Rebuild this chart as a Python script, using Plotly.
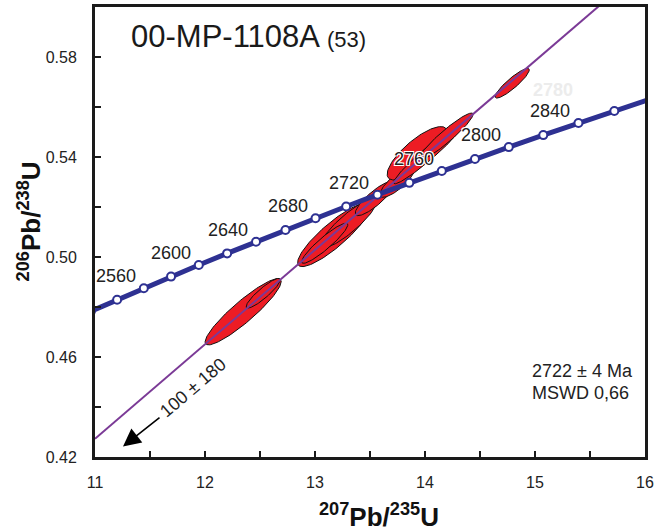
import numpy as np
import plotly.graph_objects as go

# ---------------- data ----------------
# Concordia points (t in Ma, 207Pb/235U, 206Pb/238U)
conc_age = [2520, 2540, 2560, 2580, 2600, 2620, 2640, 2660, 2680, 2700,
            2720, 2740, 2760, 2780, 2800, 2820, 2840, 2860, 2880]
conc_x = [10.9630, 11.2010, 11.4437, 11.6913, 11.9437, 12.2012, 12.4638, 12.7316,
          13.0048, 13.2834, 13.5675, 13.8573, 14.1528, 14.4543, 14.7617, 15.0752,
          15.3950, 15.7211, 16.0537]
conc_y = [0.47833, 0.48293, 0.48753, 0.49216, 0.49679, 0.50145, 0.50611, 0.51079,
          0.51548, 0.52019, 0.52492, 0.52966, 0.53441, 0.53918, 0.54396, 0.54876,
          0.55357, 0.55840, 0.56324]
label_ages = [2560, 2600, 2640, 2680, 2720, 2760, 2800, 2840]

# Discordia chord (drawn across the frame)
disc_x = [11.0, 16.0]
disc_y = [0.4273, 0.6162]

# Error ellipses: centre, x-error, y-error, error correlation
ell_x = [12.347, 12.529, 13.170, 13.306, 13.088, 13.543, 13.747, 13.929, 14.020, 14.193, 14.793]
ell_y = [0.4781, 0.4855, 0.5088, 0.5135, 0.5055, 0.5234, 0.5300, 0.5415, 0.5409, 0.5483, 0.5695]
ell_sx = [0.346, 0.155, 0.328, 0.254, 0.210, 0.177, 0.157, 0.273, 0.306, 0.244, 0.155]
ell_sy = [0.01326, 0.00593, 0.01265, 0.00977, 0.00803, 0.00685, 0.00612, 0.01066, 0.01161, 0.00930, 0.00593]
ell_rho = [0.912, 0.900, 0.873, 0.880, 0.921, 0.852, 0.813, 0.787, 0.962, 0.942, 0.900]

x_ticks = [11, 12, 13, 14, 15, 16]
x_minor = [11.5, 12.5, 13.5, 14.5, 15.5]
y_ticks = [0.42, 0.46, 0.50, 0.54, 0.58]
y_minor = [0.44, 0.48, 0.52, 0.56]

sample_name = "00-MP-1108A"
n_analyses = 53
age_text = "2722 ± 4 Ma"
mswd_text = "MSWD 0,66"
lower_text = "100 ± 180"

FONT = "Arial, 'Liberation Sans', Helvetica, sans-serif"
BLUE = "#2E3192"
RED = "#ED1C24"
PURPLE = "#7B3A96"

fig = go.Figure()

# ellipses
t = np.linspace(0, 2 * np.pi, 120)
for cx, cy, sx, sy, r in zip(ell_x, ell_y, ell_sx, ell_sy, ell_rho):
    ex = cx + sx * np.cos(t)
    ey = cy + sy * (r * np.cos(t) + np.sqrt(1 - r * r) * np.sin(t))
    fig.add_trace(go.Scatter(x=ex, y=ey, mode="lines", fill="toself",
                             fillcolor=RED, line=dict(color="#111111", width=1),
                             hoverinfo="skip"))

# discordia
fig.add_trace(go.Scatter(x=disc_x, y=disc_y, mode="lines",
                         line=dict(color=PURPLE, width=2), hoverinfo="skip"))

# concordia
fig.add_trace(go.Scatter(x=conc_x, y=conc_y, mode="lines+markers",
                         line=dict(color=BLUE, width=5),
                         marker=dict(size=8, color="white", line=dict(color=BLUE, width=2)),
                         hoverinfo="skip"))

annotations = []
halo = "1px 1px 0 #fff, -1px -1px 0 #fff, 1px -1px 0 #fff, -1px 1px 0 #fff"
for a in label_ages:
    i = conc_age.index(a)
    annotations.append(dict(x=conc_x[i], y=conc_y[i], xref="x", yref="y",
                            text=str(a), showarrow=False, xanchor="right", yanchor="bottom",
                            xshift=-6, yshift=0,
                            font=dict(family=FONT, size=18, color="#222222", shadow=halo)))

# faint ghost label
annotations.append(dict(x=0.832, y=0.816, xref="paper", yref="paper", text="<b>2780</b>",
                        showarrow=False, xanchor="center", yanchor="middle",
                        font=dict(family=FONT, size=18, color="#ececec")))

# title
annotations.append(dict(x=0.061, y=0.934, xref="paper", yref="paper",
                        text=f"{sample_name} <span style='font-size:22px'>({n_analyses})</span>",
                        showarrow=False, xanchor="left", yanchor="middle",
                        font=dict(family=FONT, size=31, color="#1a1a1a")))

# age / MSWD
annotations.append(dict(x=0.790, y=0.1907, xref="paper", yref="paper", text=age_text,
                        showarrow=False, xanchor="left", yanchor="middle",
                        font=dict(family=FONT, size=18, color="#222222")))
annotations.append(dict(x=0.790, y=0.1413, xref="paper", yref="paper", text=mswd_text,
                        showarrow=False, xanchor="left", yanchor="middle",
                        font=dict(family=FONT, size=18, color="#222222")))

# lower intercept text
annotations.append(dict(x=11.888, y=0.4477, xref="x", yref="y", text=lower_text,
                        showarrow=False, textangle=-40.6, xanchor="center", yanchor="middle",
                        font=dict(family=FONT, size=18, color="#222222")))
# arrow
annotations.append(dict(x=11.2545, y=0.42424, xref="x", yref="y", text="",
                        showarrow=True, ax=38, ay=-30, axref="pixel", ayref="pixel",
                        arrowhead=2, arrowsize=2.2, arrowwidth=1.6, arrowcolor="black"))

# axis titles
annotations.append(dict(x=(379 - 95.3) / 550, y=(457.3 - 516) / 450, xref="paper", yref="paper",
                        text="<b><sup>207</sup>Pb/<sup>235</sup>U</b>", showarrow=False,
                        xanchor="center", yanchor="middle",
                        font=dict(family=FONT, size=26, color="#111111")))
annotations.append(dict(x=(30 - 95.3) / 550, y=(457.3 - 222) / 450, xref="paper", yref="paper",
                        text="<b><sup>206</sup>Pb/<sup>238</sup>U</b>", showarrow=False,
                        textangle=-90, xanchor="center", yanchor="middle",
                        font=dict(family=FONT, size=26, color="#111111")))

axis_common = dict(showgrid=False, zeroline=False, showline=True, linecolor="#1a1a1a",
                   linewidth=3, mirror=True, ticks="inside", ticklen=6, tickwidth=2,
                   tickcolor="#1a1a1a", automargin=False,
                   tickfont=dict(family=FONT, size=16, color="#222222"))

fig.update_xaxes(range=[11, 16], tickvals=x_ticks, ticktext=[str(v) for v in x_ticks],
                 ticklabelstandoff=9,
                 minor=dict(tickvals=x_minor, ticks="inside", ticklen=6, tickwidth=2,
                            tickcolor="#1a1a1a", showgrid=False),
                 **axis_common)
fig.update_yaxes(range=[0.42, 0.60], tickvals=y_ticks, ticktext=[f"{v:.2f}" for v in y_ticks],
                 ticklabelstandoff=12,
                 minor=dict(tickvals=y_minor, ticks="inside", ticklen=6, tickwidth=2,
                            tickcolor="#1a1a1a", showgrid=False),
                 **axis_common)

fig.update_layout(width=666, height=531, margin=dict(l=95, r=21, t=7, b=74),
                  plot_bgcolor="white", paper_bgcolor="white", showlegend=False,
                  annotations=annotations)

fig.write_html("out.html", config={"displayModeBar": False},
               post_script="document.body.style.margin='0';document.body.style.overflow='hidden';")
